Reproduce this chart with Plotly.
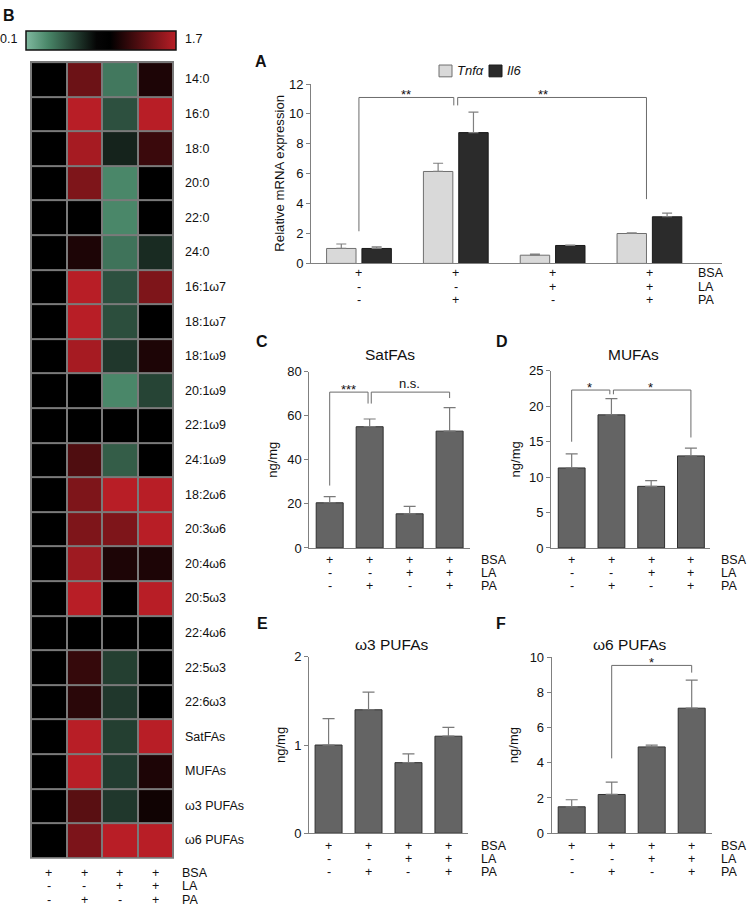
import plotly.graph_objects as go

W, H = 747, 913
FONT = "Liberation Sans, Arial, sans-serif"
TXT = "#111111"

# ---------------- data ----------------
treat_names = ["BSA", "LA", "PA"]
bsa_row = ["+", "+", "+", "+"]
la_row = ["-", "-", "+", "+"]
pa_row = ["-", "+", "-", "+"]

fatty_acids = ["14:0", "16:0", "18:0", "20:0", "22:0", "24:0", "16:1ω7", "18:1ω7",
               "18:1ω9", "20:1ω9", "22:1ω9", "24:1ω9", "18:2ω6", "20:3ω6", "20:4ω6",
               "20:5ω3", "22:4ω6", "22:5ω3", "22:6ω3", "SatFAs", "MUFAs", "ω3 PUFAs",
               "ω6 PUFAs"]
fold_bsa = [1.00, 1.00, 1.00, 1.00, 1.00, 1.00, 1.00, 1.00, 1.00, 1.00, 1.00, 1.00,
            1.00, 1.00, 1.00, 1.00, 1.00, 1.00, 1.00, 1.00, 1.00, 1.00, 1.00]
fold_pa = [1.41, 1.70, 1.63, 1.48, 1.00, 1.11, 1.70, 1.70, 1.63, 1.00, 1.00, 1.30,
           1.48, 1.48, 1.60, 1.70, 1.00, 1.20, 1.16, 1.70, 1.70, 1.34, 1.47]
fold_la = [0.39, 0.55, 0.73, 0.33, 0.33, 0.41, 0.55, 0.56, 0.65, 0.33, 1.00, 0.50,
           1.70, 1.48, 1.11, 1.00, 1.00, 0.62, 0.65, 0.62, 0.63, 0.65, 1.70]
fold_lapa = [1.11, 1.70, 1.22, 1.00, 1.00, 0.70, 1.48, 1.00, 1.11, 0.60, 1.00, 1.00,
             1.70, 1.70, 1.11, 1.70, 1.00, 1.00, 1.00, 1.70, 1.11, 1.06, 1.70]
scale_min, scale_max = 0.1, 1.7

groups = [0, 1, 2, 3]
tnf_mean = [1.0, 6.15, 0.55, 2.0]
tnf_sem = [0.3, 0.55, 0.07, 0.05]
il6_mean = [1.0, 8.75, 1.2, 3.12]
il6_sem = [0.1, 1.37, 0.03, 0.25]

satfa_mean = [20.5, 55.0, 15.5, 53.0]
satfa_sem = [2.8, 3.5, 3.4, 10.7]
mufa_mean = [11.3, 18.8, 8.7, 13.0]
mufa_sem = [2.0, 2.3, 0.8, 1.1]
w3_mean = [1.0, 1.4, 0.8, 1.1]
w3_sem = [0.3, 0.2, 0.1, 0.1]
w6_mean = [1.5, 2.2, 4.9, 7.1]
w6_sem = [0.4, 0.7, 0.1, 1.6]

# significance brackets: (x_left, x_right, y_top, y_left_end, y_right_end, label, label_x)
sig_A = [(0.0, 0.98, 11.1, 2.15, 10.57, "**", 0.49), (1.02, 2.97, 11.1, 10.57, 4.3, "**", 1.9)]
sig_C = [(0.0, 0.96, 70.7, 28.3, 65.5, "***", 0.48), (1.04, 3.0, 70.7, 65.5, 68.0, "n.s.", 2.0)]
sig_D = [(0.0, 0.96, 22.3, 15.0, 21.7, "*", 0.44), (1.05, 3.0, 22.3, 21.7, 15.6, "*", 1.98)]
sig_E = []
sig_F = [(1.0, 3.0, 9.53, 4.25, 9.12, "*", 2.0)]


def pxx(p):
    return p / W


def pxy(p):
    return 1 - p / H


fig = go.Figure()
annotations = []
shapes = []

# ---------------- heatmap (B) ----------------
z = [[a, b, c, d] for a, b, c, d in zip(fold_bsa, fold_pa, fold_la, fold_lapa)]
colorscale = [[0.0, "#80b9a0"], [0.144, "#4a8769"], [0.47, "#050505"], [0.5625, "#000000"],
              [1.0, "#b81e26"]]
fig.add_trace(go.Heatmap(
    z=z, x=groups, y=list(range(len(fatty_acids))), zmin=scale_min, zmax=scale_max,
    colorscale=colorscale, xgap=2, ygap=2, hoverinfo="skip", xaxis="x", yaxis="y",
    colorbar=dict(orientation="h", x=pxx(101), xanchor="center", y=pxy(24), yanchor="top",
                  len=150 / W, lenmode="fraction", thickness=19, thicknessmode="pixels",
                  outlinecolor="#111111", outlinewidth=1.5, showticklabels=False, ticks="",
                  xpad=0, ypad=0)))
shapes.append(dict(type="rect", xref="x domain", yref="y domain", x0=0, x1=1, y0=0, y1=1,
                   fillcolor="#7a7a7a", line=dict(color="#7a7a7a", width=2), layer="below"))
for i, name in enumerate(fatty_acids):
    annotations.append(dict(x=pxx(183), xref="paper", y=i, yref="y", text=name,
                            xanchor="left", yanchor="middle", showarrow=False,
                            font=dict(size=12.5, family=FONT, color=TXT)))
annotations.append(dict(x=pxx(19), xref="paper", y=pxy(33), yref="paper", text=f"{scale_min}",
                        xanchor="right", yanchor="middle", showarrow=False,
                        font=dict(size=12.5, family=FONT, color=TXT)))
annotations.append(dict(x=pxx(183), xref="paper", y=pxy(33), yref="paper", text=f"{scale_max}",
                        xanchor="left", yanchor="middle", showarrow=False,
                        font=dict(size=12.5, family=FONT, color=TXT)))

layout_axes = {}
layout_axes["xaxis"] = dict(domain=[pxx(31), pxx(173)], range=[-0.5, 3.5], anchor="y",
                            showticklabels=False, showgrid=False, zeroline=False, ticks="")
layout_axes["yaxis"] = dict(domain=[pxy(865), pxy(56)], range=[len(fatty_acids) - 0.5, -0.5],
                            anchor="x", showticklabels=False, showgrid=False, zeroline=False,
                            ticks="")


def treat_rows(xref, label_px, base_px, offsets):
    rows = [bsa_row, la_row, pa_row]
    for r, (row, off) in enumerate(zip(rows, offsets)):
        for g, sym in zip(groups, row):
            annotations.append(dict(x=g, xref=xref, y=pxy(base_px + off), yref="paper",
                                    text=sym, showarrow=False, xanchor="center",
                                    yanchor="middle", height=11, borderpad=0,
                                    font=dict(size=12.5, family=FONT, color=TXT)))
        annotations.append(dict(x=pxx(label_px), xref="paper", y=pxy(base_px + off),
                                yref="paper", text=treat_names[r], showarrow=False,
                                xanchor="left", yanchor="middle", height=11, borderpad=0,
                                font=dict(size=12.5, family=FONT, color=TXT)))


treat_rows("x", 181, 865, [15, 28.5, 42])
annotations.append(dict(x=pxx(1), xref="paper", y=pxy(9), yref="paper", text="<b>B</b>",
                        xanchor="left", yanchor="middle", showarrow=False,
                        font=dict(size=16, family=FONT, color=TXT)))


def axis_pair(n, x0, x1, y_bottom, y_top, xr, yr, tickvals):
    layout_axes[f"xaxis{n}"] = dict(domain=[pxx(x0), pxx(x1)], range=xr, anchor=f"y{n}",
                                    showline=True, linecolor="#808080", linewidth=1,
                                    showticklabels=False, showgrid=False, zeroline=False,
                                    ticks="")
    layout_axes[f"yaxis{n}"] = dict(domain=[pxy(y_bottom), pxy(y_top)], range=yr,
                                    anchor=f"x{n}", showline=True, linecolor="#808080",
                                    linewidth=1, ticks="outside", ticklen=4,
                                    tickcolor="#808080", tickvals=tickvals, showgrid=False,
                                    zeroline=False,
                                    tickfont=dict(size=13, family=FONT, color=TXT))


def add_brackets(n, sigs):
    for (xl, xr, yt, yl, yr, lab, lx) in sigs:
        fig.add_trace(go.Scatter(x=[xl, xl, xr, xr], y=[yl, yt, yt, yr], mode="lines",
                                 line=dict(color="#6b6b6b", width=1), hoverinfo="skip",
                                 showlegend=False, xaxis=f"x{n}", yaxis=f"y{n}"))
        star = lab.startswith("*")
        annotations.append(dict(x=lx, xref=f"x{n}", y=yt, yref=f"y{n}", text=lab,
                                showarrow=False, xanchor="center", yanchor="bottom",
                                yshift=-7 if star else -1,
                                font=dict(size=13, family=FONT, color=TXT)))


# ---------------- panel A ----------------
axis_pair(2, 311, 722, 260.7, 78.3, [-0.495, 3.75], [0, 12], [0, 2, 4, 6, 8, 10, 12])
fig.add_trace(go.Bar(x=groups, y=tnf_mean, width=0.304, offset=-0.334,
                     marker=dict(color="#d9d9d9", line=dict(color="#6f6f6f", width=1)),
                     error_y=dict(type="data", array=tnf_sem, arrayminus=[0 for _ in tnf_sem],
                                  symmetric=False, color="#808080", thickness=1.2, width=5),
                     hoverinfo="skip", showlegend=False, xaxis="x2", yaxis="y2"))
fig.add_trace(go.Bar(x=groups, y=il6_mean, width=0.304, offset=0.031,
                     marker=dict(color="#2b2b2b", line=dict(color="#1a1a1a", width=1)),
                     error_y=dict(type="data", array=il6_sem, arrayminus=[0 for _ in il6_sem],
                                  symmetric=False, color="#808080", thickness=1.2, width=5),
                     hoverinfo="skip", showlegend=False, xaxis="x2", yaxis="y2"))
add_brackets(2, sig_A)
treat_rows("x2", 697, 260.7, [9.5, 23, 36.5])
annotations.append(dict(x=pxx(280), xref="paper", y=pxy(169.5), yref="paper",
                        text="Relative mRNA expression", textangle=-90, showarrow=False,
                        xanchor="center", yanchor="middle",
                        font=dict(size=13.2, family=FONT, color=TXT)))
annotations.append(dict(x=pxx(253), xref="paper", y=pxy(55.5), yref="paper", text="<b>A</b>",
                        xanchor="left", yanchor="middle", showarrow=False,
                        font=dict(size=16, family=FONT, color=TXT)))
# legend
shapes.append(dict(type="rect", xref="paper", yref="paper", x0=pxx(439), x1=pxx(452),
                   y0=pxy(71), y1=pxy(59), fillcolor="#d9d9d9",
                   line=dict(color="#6f6f6f", width=1)))
shapes.append(dict(type="rect", xref="paper", yref="paper", x0=pxx(489), x1=pxx(502),
                   y0=pxy(71), y1=pxy(59), fillcolor="#2b2b2b",
                   line=dict(color="#1a1a1a", width=1)))
annotations.append(dict(x=pxx(455), xref="paper", y=pxy(65), yref="paper", text="<i>Tnfα</i>",
                        xanchor="left", yanchor="middle", showarrow=False,
                        font=dict(size=13, family=FONT, color=TXT)))
annotations.append(dict(x=pxx(505), xref="paper", y=pxy(65), yref="paper", text="<i>Il6</i>",
                        xanchor="left", yanchor="middle", showarrow=False,
                        font=dict(size=13, family=FONT, color=TXT)))

# ---------------- panels C-F ----------------
panels = [
    dict(n=3, mean=satfa_mean, sem=satfa_sem, sig=sig_C, x0=309.3, x1=470, yb=550, yt=370.7,
         xr=[-0.51, 3.51], yr=[0, 80], tv=[0, 20, 40, 60, 80], title="SatFAs", tx=390, ty=353,
         letter="C", lx=254, ly=340.5, ytx=273, lab_px=480, offs=[11.7, 25, 38]),
    dict(n=4, mean=mufa_mean, sem=mufa_sem, sig=sig_D, x0=551, x1=710, yb=550, yt=370,
         xr=[-0.52, 3.48], yr=[0, 25], tv=[0, 5, 10, 15, 20, 25], title="MUFAs", tx=633, ty=353,
         letter="D", lx=494, ly=340.5, ytx=515, lab_px=720, offs=[11.7, 25, 38]),
    dict(n=5, mean=w3_mean, sem=w3_sem, sig=sig_E, x0=309, x1=468, yb=840, yt=660.7,
         xr=[-0.49, 3.49], yr=[0, 2], tv=[0, 1, 2], title="ω3 PUFAs", tx=391.7, ty=648,
         letter="E", lx=255, ly=626.5, ytx=280, lab_px=480, offs=[12.7, 25.7, 38.7]),
    dict(n=6, mean=w6_mean, sem=w6_sem, sig=sig_F, x0=551.7, x1=711.7, yb=840, yt=661,
         xr=[-0.5, 3.5], yr=[0, 10], tv=[0, 2, 4, 6, 8, 10], title="ω6 PUFAs", tx=630, ty=648,
         letter="F", lx=494, ly=627, ytx=513, lab_px=720, offs=[12.7, 25.7, 38.7]),
]
for p in panels:
    n = p["n"]
    axis_pair(n, p["x0"], p["x1"], p["yb"], p["yt"], p["xr"], p["yr"], p["tv"])
    fig.add_trace(go.Bar(x=groups, y=p["mean"], width=0.675,
                         marker=dict(color="#646464", line=dict(color="#2f2f2f", width=1)),
                         error_y=dict(type="data", array=p["sem"],
                                      arrayminus=[0 for _ in p["sem"]], symmetric=False,
                                      color="#7a7a7a", thickness=1.2, width=6),
                         hoverinfo="skip", showlegend=False, xaxis=f"x{n}", yaxis=f"y{n}"))
    add_brackets(n, p["sig"])
    treat_rows(f"x{n}", p["lab_px"], p["yb"], p["offs"])
    annotations.append(dict(x=pxx(p["tx"]), xref="paper", y=pxy(p["ty"]), yref="paper",
                            text=p["title"], showarrow=False, xanchor="center",
                            yanchor="middle", font=dict(size=15.5, family=FONT, color=TXT)))
    annotations.append(dict(x=pxx(p["lx"]), xref="paper", y=pxy(p["ly"]), yref="paper",
                            text=f"<b>{p['letter']}</b>", showarrow=False, xanchor="left",
                            yanchor="middle", font=dict(size=16, family=FONT, color=TXT)))
    annotations.append(dict(x=pxx(p["ytx"]), xref="paper", y=pxy((p["yb"] + p["yt"]) / 2),
                            yref="paper", text="ng/mg", textangle=-90, showarrow=False,
                            xanchor="center", yanchor="middle",
                            font=dict(size=13, family=FONT, color=TXT)))

fig.update_layout(
    width=W, height=H, margin=dict(l=0, r=0, t=0, b=0), autosize=False,
    paper_bgcolor="white", plot_bgcolor="white", barmode="overlay", showlegend=False,
    font=dict(family=FONT, color=TXT), annotations=annotations, shapes=shapes,
    **layout_axes)

fig.write_html("out.html", config={"displayModeBar": False},
               post_script="document.body.style.margin='0';document.body.style.overflow='hidden';")
